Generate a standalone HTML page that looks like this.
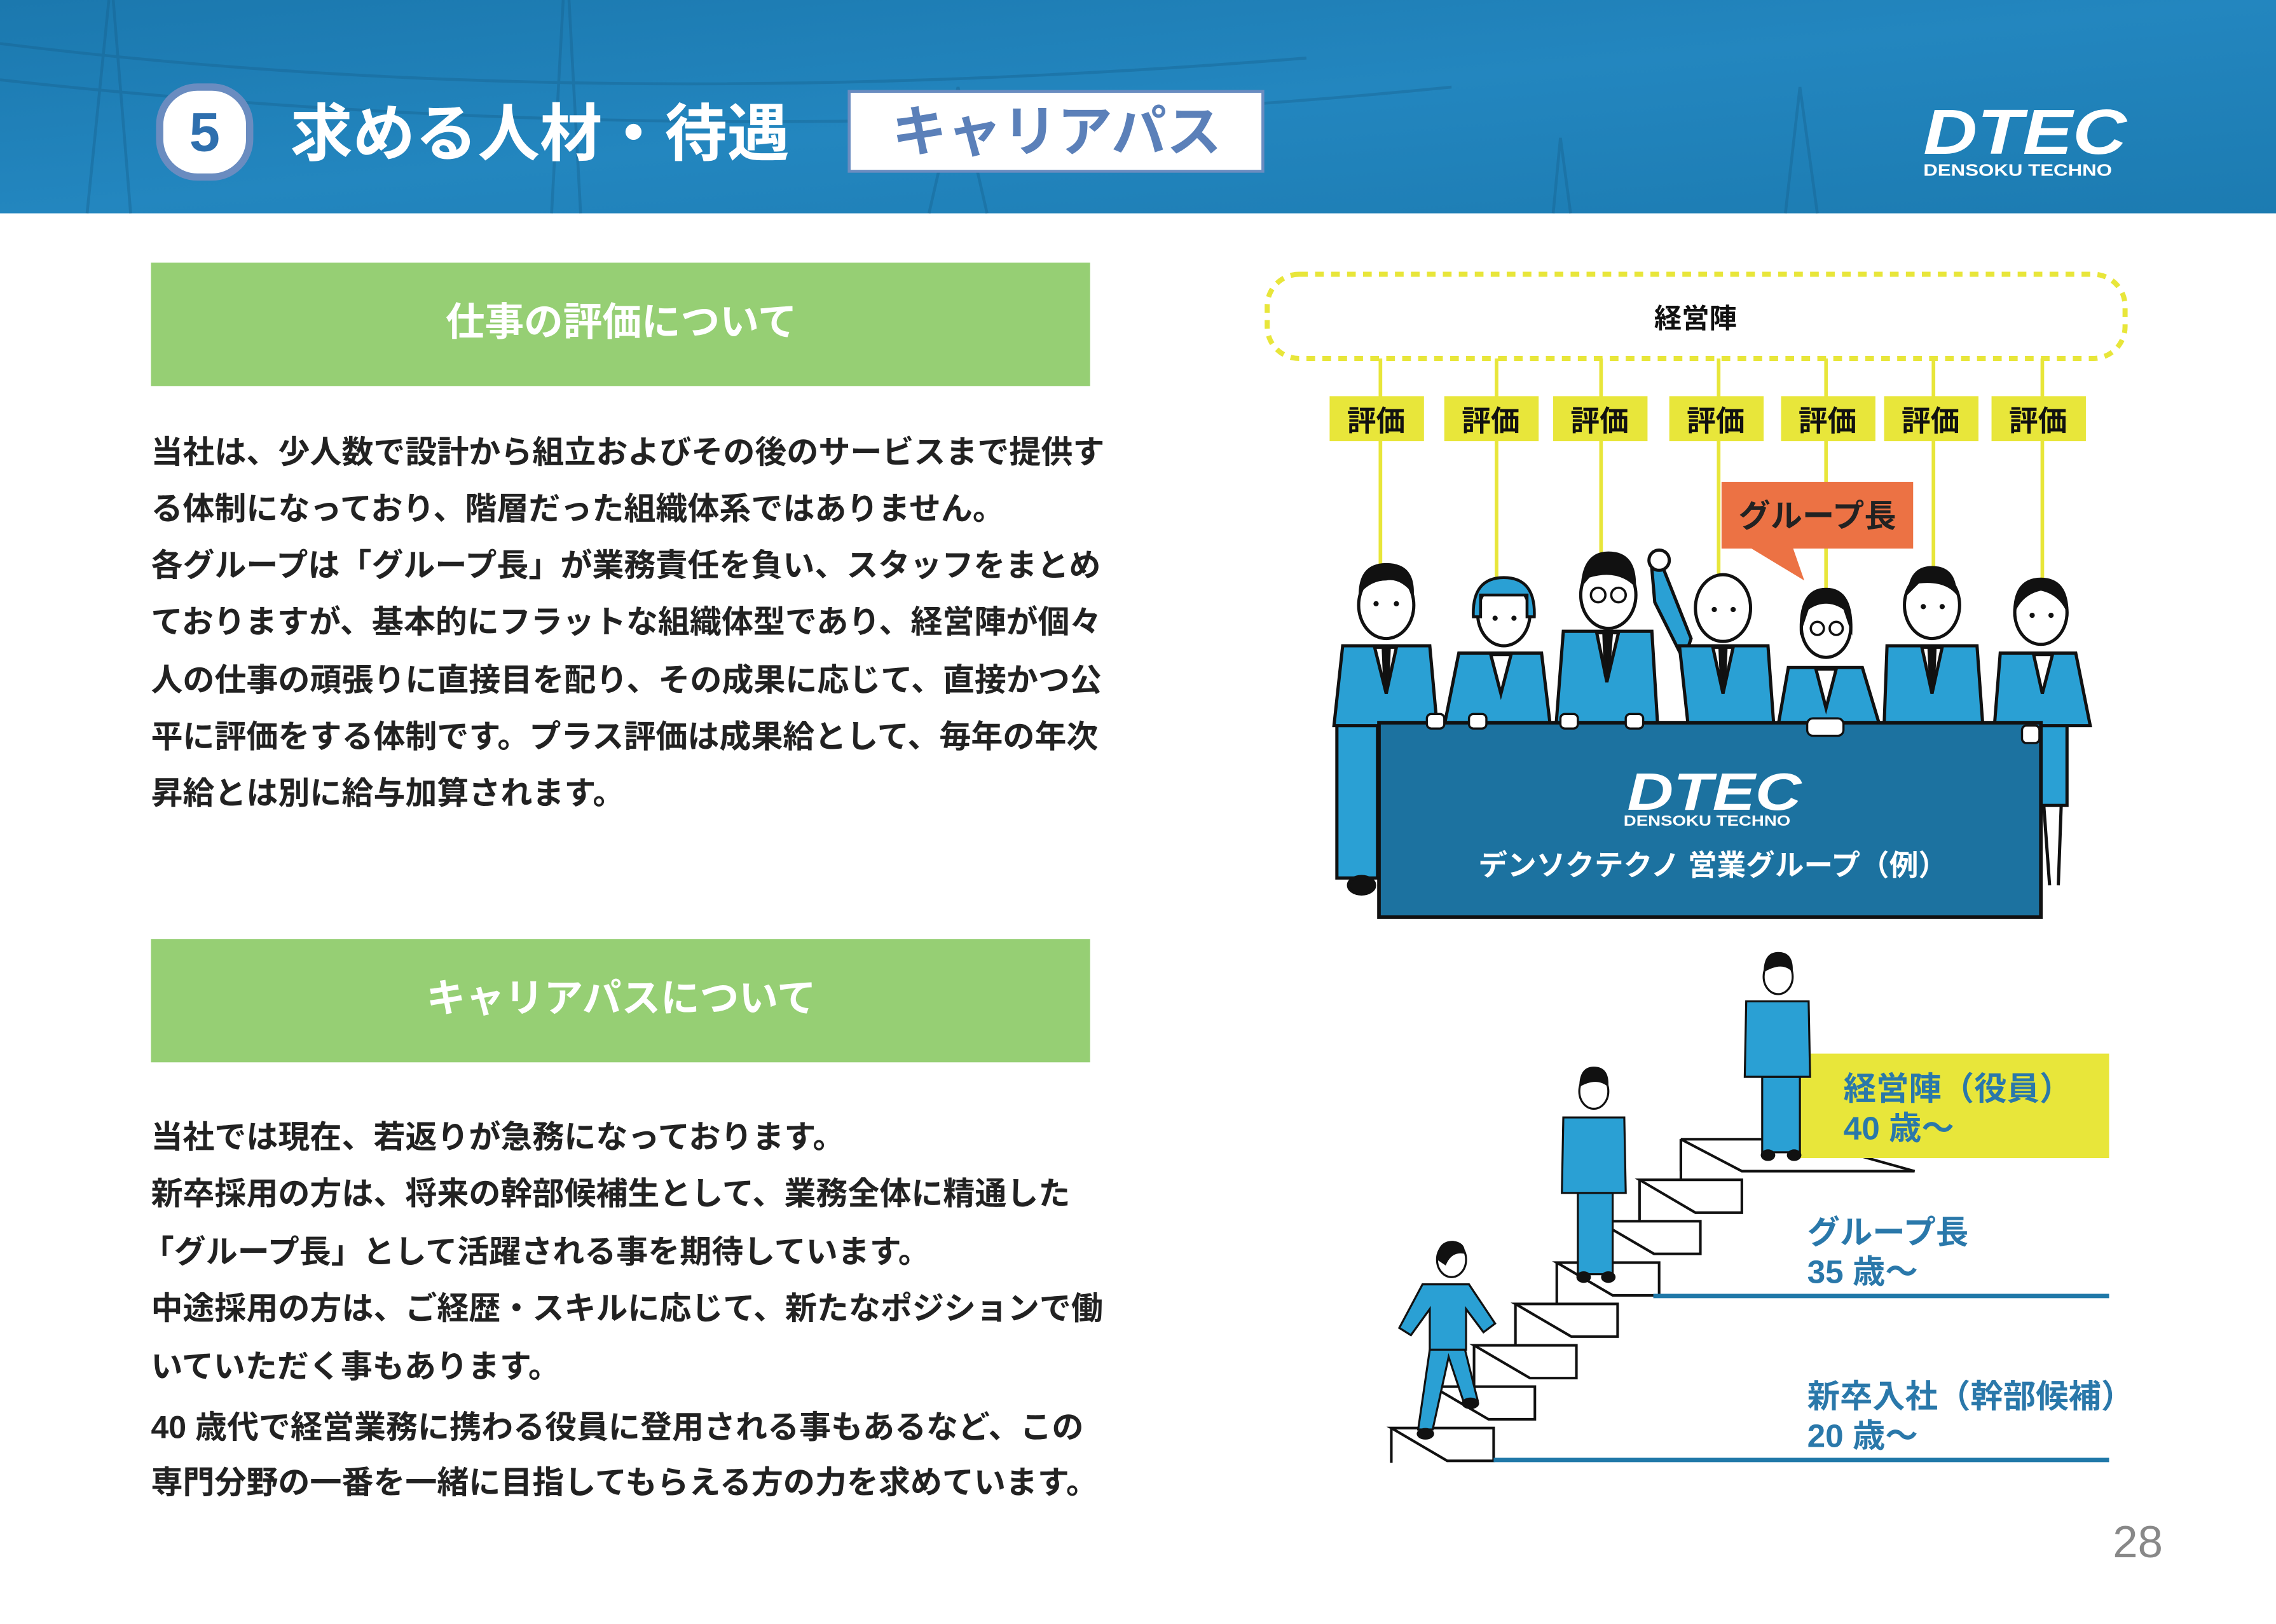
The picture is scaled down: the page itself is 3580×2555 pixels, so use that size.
<!DOCTYPE html>
<html><head><meta charset="utf-8"><style>
html,body{margin:0;padding:0;background:#fff;}
svg{display:block;}
text{font-family:"Liberation Sans","Noto Sans CJK JP",sans-serif;}
</style></head><body>
<svg width="3580" height="2555" viewBox="0 0 3580 2555" xmlns="http://www.w3.org/2000/svg">
<defs>
<linearGradient id="hg" x1="0" y1="0" x2="1" y2="1">
<stop offset="0" stop-color="#1b78ae"/><stop offset="0.5" stop-color="#2386bf"/><stop offset="1" stop-color="#1c7bb1"/>
</linearGradient>
</defs>
<g transform="scale(2.2832)">
<rect x="0" y="0" width="1568" height="147" fill="url(#hg)"/>
<g stroke="#17618e" stroke-width="2" opacity="0.4" fill="none">
<path d="M60 147 L75 0 M90 147 L78 0"/>
<path d="M380 147 L388 0 M400 147 L392 0"/>
<path d="M640 147 L660 60 L680 147"/>
<path d="M1070 147 L1075 95 L1082 147"/>
<path d="M1230 147 L1240 60 L1252 147"/>
<path d="M0 30 Q400 80 900 40 M0 55 Q500 110 1000 60"/>
</g>
<rect x="110" y="60" width="62" height="62" rx="26" fill="#fff" stroke="#6a8cc0" stroke-width="5"/>
<text x="141" y="104" font-size="38" font-weight="bold" fill="#2e6fae" text-anchor="middle">5</text>
<text x="200" y="107" font-size="43" font-weight="bold" fill="#fff">求める人材・待遇</text>
<rect x="585" y="63" width="285" height="55" fill="#fff" stroke="#6a8cc0" stroke-width="2"/>
<text x="728" y="104" font-size="38" font-weight="bold" fill="#5b80b9" text-anchor="middle">キャリアパス</text>
<text x="1395" y="106" font-size="44" font-weight="bold" font-style="italic" fill="#fff" text-anchor="middle" textLength="140" lengthAdjust="spacingAndGlyphs">DTEC</text>
<text x="1390" y="121" font-size="11.5" font-weight="bold" fill="#fff" text-anchor="middle" textLength="130" lengthAdjust="spacingAndGlyphs">DENSOKU TECHNO</text>

<rect x="104" y="181" width="647" height="85" fill="#96cf74"/>
<text x="428" y="231" font-size="27" font-weight="bold" fill="#fff" text-anchor="middle">仕事の評価について</text>
<g font-size="21.9" font-weight="bold" fill="#222">
<text x="104" y="319">当社は、少人数で設計から組立およびその後のサービスまで提供す</text>
<text x="104" y="358">る体制になっており、階層だった組織体系ではありません。</text>
<text x="104" y="397">各グループは「グループ長」が業務責任を負い、スタッフをまとめ</text>
<text x="104" y="436">ておりますが、基本的にフラットな組織体型であり、経営陣が個々</text>
<text x="104" y="476">人の仕事の頑張りに直接目を配り、その成果に応じて、直接かつ公</text>
<text x="104" y="515">平に評価をする体制です。プラス評価は成果給として、毎年の年次</text>
<text x="104" y="554">昇給とは別に給与加算されます。</text>
</g>
<rect x="104" y="647" width="647" height="85" fill="#96cf74"/>
<text x="428" y="697" font-size="27" font-weight="bold" fill="#fff" text-anchor="middle">キャリアパスについて</text>
<g font-size="21.9" font-weight="bold" fill="#222">
<text x="104" y="791">当社では現在、若返りが急務になっております。</text>
<text x="104" y="830">新卒採用の方は、将来の幹部候補生として、業務全体に精通した</text>
<text x="98" y="870">「グループ長」として活躍される事を期待しています。</text>
<text x="104" y="909">中途採用の方は、ご経歴・スキルに応じて、新たなポジションで働</text>
<text x="104" y="949">いていただく事もあります。</text>
<text x="104" y="991">40 歳代で経営業務に携わる役員に登用される事もあるなど、この</text>
<text x="104" y="1029">専門分野の一番を一緒に目指してもらえる方の力を求めています。</text>
</g>

<rect x="873" y="189" width="591" height="58" rx="22" fill="none" stroke="#e8e63a" stroke-width="3.5" stroke-dasharray="6 5"/>
<text x="1168" y="226" font-size="19" font-weight="bold" fill="#111" text-anchor="middle">経営陣</text>
<g stroke="#e8e63a" stroke-width="2.5">
<line x1="951" y1="247" x2="951" y2="400"/>
<line x1="1031" y1="247" x2="1031" y2="410"/>
<line x1="1103" y1="247" x2="1103" y2="390"/>
<line x1="1184" y1="247" x2="1184" y2="400"/>
<line x1="1258" y1="247" x2="1258" y2="410"/>
<line x1="1332" y1="247" x2="1332" y2="395"/>
<line x1="1407" y1="247" x2="1407" y2="410"/>
</g>
<g fill="#e8e63a">
<rect x="916" y="273" width="65" height="31"/><rect x="995" y="273" width="65" height="31"/>
<rect x="1070" y="273" width="65" height="31"/><rect x="1150" y="273" width="65" height="31"/>
<rect x="1227" y="273" width="65" height="31"/><rect x="1298" y="273" width="65" height="31"/>
<rect x="1372" y="273" width="65" height="31"/>
</g>
<g font-size="20" font-weight="bold" fill="#111" text-anchor="middle">
<text x="948" y="297">評価</text><text x="1027" y="297">評価</text><text x="1102" y="297">評価</text>
<text x="1182" y="297">評価</text><text x="1259" y="297">評価</text><text x="1330" y="297">評価</text>
<text x="1404" y="297">評価</text>
</g>
<rect x="1186" y="332" width="132" height="46" fill="#ec7244"/>
<path d="M1205 377 L1235 377 L1243 400 Z" fill="#ec7244"/>
<text x="1252" y="363" font-size="22" font-weight="bold" fill="#222" text-anchor="middle">グループ長</text>

<g stroke="#111" stroke-width="2.2">
<rect x="921" y="500" width="28" height="105" fill="#2aa0d4"/>
<ellipse cx="938" cy="610" rx="9" ry="6" fill="#111"/>
<rect x="1406" y="500" width="18" height="55" fill="#2aa0d4"/>
<path d="M1408 555 L1412 610 M1420 555 L1418 610" fill="none"/>
<path d="M1138 392 L1146 392 L1165 440 L1160 455 L1140 415 Z" fill="#2aa0d4"/>
<circle cx="1143" cy="386" r="7" fill="#fff"/>
<path d="M925 445 L985 445 L990 500 L919 500 Z" fill="#2aa0d4"/>
<path d="M1005 450 L1062 450 L1068 500 L995 500 Z" fill="#2aa0d4"/>
<path d="M1077 435 L1138 435 L1142 500 L1072 500 Z" fill="#2aa0d4"/>
<path d="M1157 445 L1218 445 L1222 500 L1163 500 Z" fill="#2aa0d4"/>
<path d="M1232 460 L1283 460 L1295 500 L1225 500 Z" fill="#2aa0d4"/>
<path d="M1300 445 L1362 445 L1366 500 L1298 500 Z" fill="#2aa0d4"/>
<path d="M1378 450 L1430 450 L1440 500 L1374 500 Z" fill="#2aa0d4"/>
<g fill="#fff">
<path d="M947 446 L962 446 L955 478 Z"/><path d="M1027 451 L1041 451 L1034 478 Z"/>
<path d="M1100 436 L1115 436 L1107 470 Z"/><path d="M1180 446 L1194 446 L1187 478 Z"/>
<path d="M1251 461 L1265 461 L1258 488 Z"/><path d="M1324 446 L1338 446 L1331 478 Z"/>
<path d="M1401 451 L1414 451 L1407 478 Z"/>
</g>
<g fill="#111">
<path d="M953 448 L957 448 L956 472 L954 472 Z"/><path d="M1105 438 L1110 438 L1108 465 L1106 465 Z"/>
<path d="M1185 448 L1189 448 L1188 472 L1186 472 Z"/><path d="M1329 448 L1333 448 L1332 472 L1330 472 Z"/>
</g>
<g fill="#fff">
<ellipse cx="955" cy="417" rx="19" ry="23"/>
<ellipse cx="1036" cy="423" rx="18" ry="22"/>
<ellipse cx="1108" cy="410" rx="19" ry="23"/>
<ellipse cx="1187" cy="419" rx="19" ry="23"/>
<ellipse cx="1258" cy="432" rx="17" ry="21"/>
<ellipse cx="1331" cy="417" rx="19" ry="23"/>
<ellipse cx="1406" cy="422" rx="18" ry="22"/>
</g>
</g>
<g fill="#111">
<path d="M936 410 Q936 388 955 388 Q975 388 974 410 Q965 398 955 400 Q944 400 936 410 Z"/>
<path d="M1015 425 Q1014 398 1036 398 Q1058 398 1057 425 L1052 425 L1052 410 L1020 410 L1020 425 Z" fill="#2aa0d4" stroke="#111" stroke-width="2"/>
<path d="M1089 405 Q1090 380 1108 380 Q1128 380 1127 405 Q1115 392 1095 398 Z"/>
<path d="M1240 438 Q1238 405 1258 405 Q1278 405 1276 438 L1270 420 Q1258 412 1246 420 Z"/>
<path d="M1387 425 Q1386 398 1406 398 Q1426 398 1425 425 Q1420 410 1406 407 Q1392 410 1387 425 Z"/>
<path d="M1314 410 Q1315 390 1331 390 Q1348 390 1348 410 Q1340 400 1322 402 Z"/>
</g>
<g fill="none" stroke="#111" stroke-width="1.6">
<circle cx="1101" cy="410" r="5"/><circle cx="1115" cy="410" r="5"/>
<circle cx="1252" cy="433" r="4.5"/><circle cx="1265" cy="433" r="4.5"/>
</g>
<g fill="#111">
<circle cx="948" cy="416" r="1.8"/><circle cx="962" cy="416" r="1.8"/>
<circle cx="1030" cy="426" r="1.8"/><circle cx="1043" cy="426" r="1.8"/>
<circle cx="1181" cy="420" r="1.8"/><circle cx="1194" cy="420" r="1.8"/>
<circle cx="1325" cy="418" r="1.8"/><circle cx="1338" cy="418" r="1.8"/>
<circle cx="1400" cy="424" r="1.8"/><circle cx="1413" cy="424" r="1.8"/>
</g>
<rect x="950" y="498" width="456" height="134" fill="#1c72a0" stroke="#111" stroke-width="2.5"/>
<g fill="#fff" stroke="#111" stroke-width="1.5">
<rect x="983" y="492" width="12" height="10" rx="3"/><rect x="1012" y="492" width="12" height="10" rx="3"/>
<rect x="1075" y="492" width="12" height="10" rx="3"/><rect x="1120" y="492" width="12" height="10" rx="3"/>
<rect x="1245" y="495" width="25" height="12" rx="4"/><rect x="1393" y="500" width="12" height="12" rx="3"/>
</g>
<text x="1181" y="558" font-size="36" font-weight="bold" font-style="italic" fill="#fff" text-anchor="middle" textLength="120" lengthAdjust="spacingAndGlyphs">DTEC</text>
<text x="1176" y="569" font-size="10" font-weight="bold" fill="#fff" text-anchor="middle" textLength="115" lengthAdjust="spacingAndGlyphs">DENSOKU TECHNO</text>
<text x="1180" y="603" font-size="20" font-weight="bold" fill="#fff" text-anchor="middle">デンソクテクノ 営業グループ（例）</text>

<g fill="#fff" stroke="#111" stroke-width="1.8">
<path d="M1158 785 H1240 L1319 807 H1200 Z"/>
<path d="M1158 785 V807"/>
<path d="M1129.5 813 H1200 V835.6 H1168 Z M1129.5 813 V841.5 M1158 785 V813"/>
<path d="M1101 841.5 H1171.4 V864 H1139.5 Z M1101 841.5 V870"/>
<path d="M1072.5 870 H1143 V892.6 H1111 Z M1072.5 870 V898.5"/>
<path d="M1044 898.5 H1114.4 V921 H1082.5 Z M1044 898.5 V927"/>
<path d="M1015.5 927 H1086 V949.6 H1054 Z M1015.5 927 V955.5"/>
<path d="M987 955.5 H1057.4 V978 H1025.5 Z M987 955.5 V984"/>
<path d="M958.5 984 H1029 V1006.6 H997 Z M958.5 984 V1008"/>
</g>
<line x1="1139" y1="893" x2="1453" y2="893" stroke="#1f78a8" stroke-width="3"/>
<line x1="1029" y1="1006" x2="1453" y2="1006" stroke="#1f78a8" stroke-width="3"/>
<rect x="1240" y="726" width="213" height="72" fill="#e8e63a"/>
<g stroke="#111" stroke-width="1.4">
<rect x="1214" y="742" width="26" height="52" fill="#2aa0d4"/>
<path d="M1203 690 L1246 690 L1247 742 L1202 742 Z" fill="#2aa0d4"/>
<ellipse cx="1225" cy="673" rx="10" ry="12" fill="#fff"/>
<rect x="1087" y="822" width="24" height="56" fill="#2aa0d4"/>
<path d="M1077 770 L1119 770 L1120 822 L1076 822 Z" fill="#2aa0d4"/>
<ellipse cx="1098" cy="752" rx="10" ry="12" fill="#fff"/>
<path d="M985 930 L977 985 L987 985 L998 935 L1008 965 L1018 965 L1008 925 Z" fill="#2aa0d4"/>
<path d="M980 885 L1012 885 L1030 912 L1022 918 L1010 902 L1010 930 L985 930 L985 902 L972 920 L964 915 Z" fill="#2aa0d4"/>
<ellipse cx="1000" cy="868" rx="10" ry="12" fill="#fff"/>
</g>
<g fill="#111">
<path d="M1215 670 Q1215 656 1225 656 Q1236 656 1235 670 Q1228 662 1215 670 Z"/>
<path d="M1088 749 Q1088 735 1098 735 Q1109 735 1108 749 Q1100 742 1088 749 Z"/>
<path d="M990 868 Q990 855 1001 855 Q1010 856 1009 864 Q1000 862 996 872 Z"/>
<ellipse cx="1218" cy="796" rx="5" ry="4"/><ellipse cx="1236" cy="796" rx="5" ry="4"/>
<ellipse cx="1091" cy="880" rx="5" ry="4"/><ellipse cx="1108" cy="880" rx="5" ry="4"/>
<ellipse cx="982" cy="988" rx="6" ry="4"/><ellipse cx="1013" cy="967" rx="6" ry="4"/>
</g>
<g font-size="22.5" font-weight="bold">
<text x="1270" y="758" fill="#2a78aa">経営陣（役員）</text>
<text x="1270" y="785" fill="#2a78aa">40 歳〜</text>
<text x="1245" y="857" fill="#2a78aa">グループ長</text>
<text x="1245" y="884" fill="#2a78aa">35 歳〜</text>
<text x="1245" y="970" fill="#2a78aa">新卒入社（幹部候補）</text>
<text x="1245" y="997" fill="#2a78aa">20 歳〜</text>
</g>
<text x="1490" y="1073" font-size="31" fill="#888" text-anchor="end">28</text>
</g>
</svg>
</body></html>
